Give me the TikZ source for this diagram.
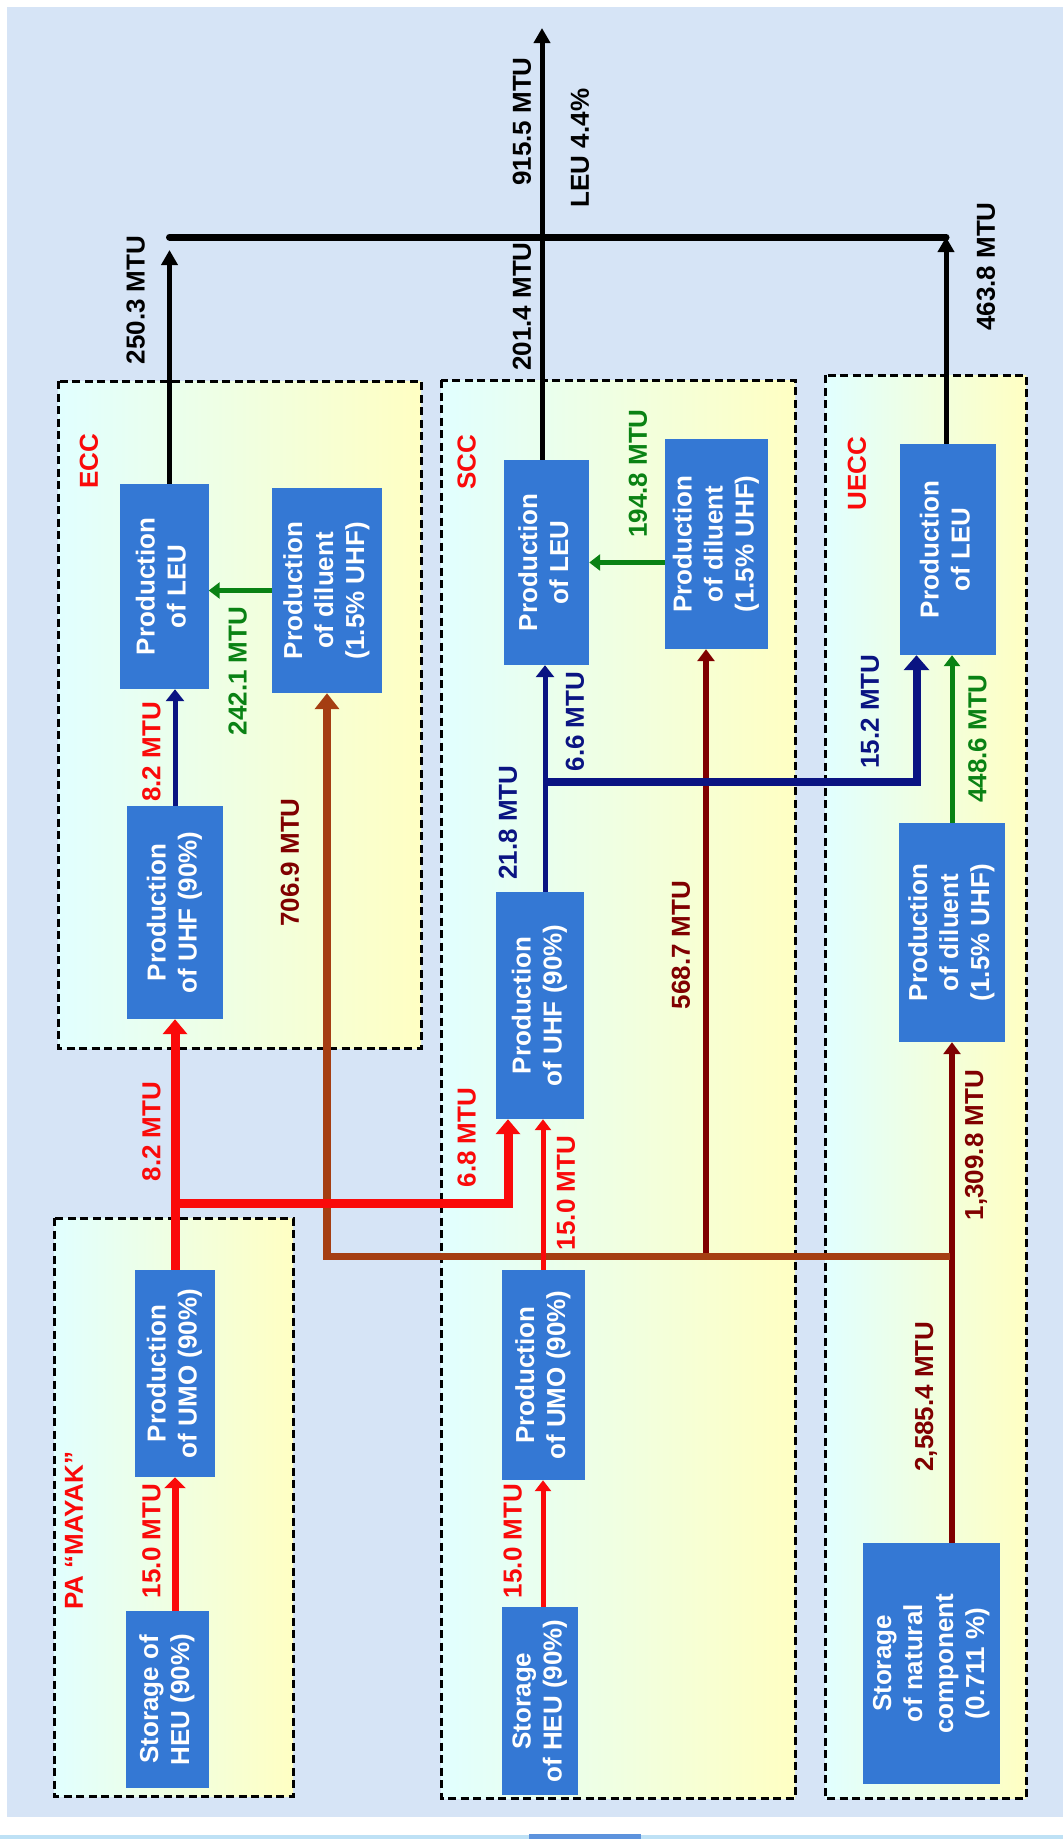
\documentclass[tikz,border=0pt]{standalone}
\usepackage{fontspec}
\usepackage{graphicx}
\setmainfont{Liberation Sans}
\usetikzlibrary{arrows.meta}
\definecolor{bgblue}{RGB}{214,228,246}
\definecolor{boxblue}{RGB}{52,120,212}
\definecolor{redc}{RGB}{250,10,10}
\definecolor{navyc}{RGB}{10,20,130}
\definecolor{greenc}{RGB}{10,130,20}
\definecolor{brownc}{RGB}{165,62,18}
\definecolor{maroonc}{RGB}{128,0,0}
\definecolor{cyanl}{RGB}{225,255,255}
\definecolor{yellowl}{RGB}{255,255,195}
\definecolor{stripblue}{RGB}{190,225,245}
\tikzset{
  blk/.style={fill=boxblue, text=white, inner sep=0pt,
    font=\fontsize{26}{31}\selectfont\bfseries},
  grp/.style={draw=black, line width=3pt, dash pattern=on 8pt off 4.5pt,
    left color=cyanl, right color=yellowl},
  lbl/.style={rotate=90, inner sep=0pt, font=\fontsize{26}{30}\selectfont\bfseries},
  redthick/.style={draw=redc, line width=9pt, -{Triangle[width=24pt,length=15pt]}},
  redmid/.style={draw=redc, line width=7pt, -{Triangle[width=21pt,length=11pt]}},
  redthin/.style={draw=redc, line width=5pt, -{Triangle[width=16pt,length=11pt]}},
  navythin/.style={draw=navyc, line width=5pt, -{Triangle[width=18pt,length=12pt]}},
  navythick/.style={draw=navyc, line width=8pt, -{Triangle[width=25pt,length=15pt]}},
  greenarr/.style={draw=greenc, line width=5pt, -{Triangle[width=16pt,length=11pt]}},
  brownarr/.style={draw=brownc, line width=7.5pt, -{Triangle[width=24pt,length=16pt]}},
  maroonarr/.style={draw=maroonc, line width=6pt, -{Triangle[width=17pt,length=12pt]}},
  blackarr/.style={draw=black, line width=5pt, -{Triangle[width=16pt,length=15pt]}},
}
\newcommand{\blktext}[1]{\rotatebox{90}{\begin{tabular}{@{}c@{}}#1\end{tabular}}}
\begin{document}
\begin{tikzpicture}[x=1pt,y=-1pt]
\useasboundingbox (0,0) rectangle (1063,1839);
% background
\fill[white] (0,0) rectangle (1063,1839);
\fill[bgblue] (7,7) rectangle (1063,1817);
\fill[stripblue] (0,1835) rectangle (1063,1839);
\fill[boxblue!80] (529,1834) rectangle (641,1839);
% group boxes
\draw[grp] (54,1218) rectangle (293,1796);
\draw[grp] (58.5,381) rectangle (421,1048);
\draw[grp] (441,380) rectangle (795,1798);
\draw[grp] (825,375) rectangle (1026,1798);

% blocks
\node[blk, minimum width=83pt, minimum height=177pt] (st1) at (167.5,1699.5) {\blktext{Storage of\\HEU (90\%)}};
\node[blk, minimum width=80pt, minimum height=207pt] (umo1) at (175,1373.5) {\blktext{Production\\of UMO (90\%)}};
\node[blk, minimum width=96pt, minimum height=213pt] (uhf1) at (175,912.5) {\blktext{Production\\of UHF (90\%)}};
\node[blk, minimum width=89pt, minimum height=205pt] (leu1) at (164,586.5) {\blktext{Production\\of LEU}};
\node[blk, minimum width=110pt, minimum height=205pt] (dil1) at (327,590.5) {\blktext{Production\\of diluent\\(1.5\% UHF)}};

\node[blk, minimum width=76pt, minimum height=188pt] (st2) at (540,1701) {\blktext{Storage\\of HEU (90\%)}};
\node[blk, minimum width=83pt, minimum height=210pt] (umo2) at (543.5,1375) {\blktext{Production\\of UMO (90\%)}};
\node[blk, minimum width=88pt, minimum height=227pt] (uhf2) at (540,1005.5) {\blktext{Production\\of UHF (90\%)}};
\node[blk, minimum width=85pt, minimum height=205pt] (leu2) at (546.5,562.5) {\blktext{Production\\of LEU}};
\node[blk, minimum width=103pt, minimum height=210pt] (dil2) at (716.5,544) {\blktext{Production\\of diluent\\(1.5\% UHF)}};

\node[blk, minimum width=96pt, minimum height=211pt] (leu3) at (948,549.5) {\blktext{Production\\of LEU}};
\node[blk, minimum width=106pt, minimum height=219pt] (dil3) at (952,932.5) {\blktext{Production\\of diluent\\(1.5\% UHF)}};
\node[blk, minimum width=137pt, minimum height=241pt] (nat) at (931.5,1663.5) {\blktext{Storage\\of natural\\component\\(0.711 \%)}};

% helper coordinates
\coordinate (busL) at (169.5,237);
\coordinate (busR) at (946,237);
\coordinate (e250) at (169.5,250);
\coordinate (topT) at (542,28);
\coordinate (rj) at (175,1203);
\coordinate (rk) at (508,1203);
\coordinate (s2) at (543,0);
\coordinate (nj) at (545,782);
\coordinate (nk) at (916.5,782);
\coordinate (bb) at (327,1256.5);
\coordinate (be) at (950,1256.5);
\coordinate (m2) at (706,1256.5);

% brown / maroon network
\draw[maroonarr] (nat.north -| dil3.south) -- (dil3.south);
\draw[maroonarr] (m2) -- (dil2.south -| m2);
\draw[brownarr] (be) -- (bb) -- (dil1.south);

% red network
\draw[redmid] (st1.north -| umo1.south) -- (umo1.south);
\draw[redthick] (umo1.north) -- (uhf1.south);
\draw[redthick] (rj) -- (rk) -- (uhf2.south -| rk);
\draw[redthin] (st2.north -| s2) -- (umo2.south -| s2);
\draw[redthin] (umo2.north -| s2) -- (uhf2.south -| s2);

% navy
\draw[navythin] (uhf1.north) -- (uhf1.north |- leu1.south);
\draw[navythin] (uhf2.north -| nj) -- (leu2.south -| nj);
\draw[navythick] (nj) -- (nk) -- (leu3.south -| nk);

% green
\draw[greenarr] (dil1.west) -- (dil1.west -| leu1.east);
\draw[greenarr] (dil2.west |- leu2.east) -- (leu2.east);
\draw[greenarr] (dil3.north) -- (dil3.north |- leu3.south);

% black output
\draw[black, line width=7pt, line cap=round] (busL) -- (busR);
\draw[blackarr] (leu1.north -| e250) -- (e250);
\draw[blackarr] (leu2.north -| topT) -- (topT);
\draw[blackarr] (leu3.north -| busR) -- (busR);

% labels
\node[lbl, text=redc] (lmayak) at (74,1530.5) {PA “MAYAK”};
\node[lbl, text=redc] (l150a) at (151.5,1541) {15.0 MTU};
\node[lbl, text=redc] (l82a) at (151.5,1131.5) {8.2 MTU};
\node[lbl, text=maroonc] (l7069) at (290,862.5) {706.9 MTU};
\node[lbl, text=redc] (lecc) at (89,461.5) {ECC};
\node[lbl, text=redc] (l82b) at (151.5,752) {8.2 MTU};
\node[lbl, text=greenc] (l2421) at (237.6,671) {242.1 MTU};
\node[lbl, text=black] (l2503) at (135.6,300) {250.3 MTU};
\node[lbl, text=redc] (lscc) at (466.6,462.5) {SCC};
\node[lbl, text=redc] (l68) at (466.6,1137.5) {6.8 MTU};
\node[lbl, text=redc] (l150b) at (512.6,1541) {15.0 MTU};
\node[lbl, text=redc] (l150c) at (566,1193) {15.0 MTU};
\node[lbl, text=navyc] (l218) at (508,822.5) {21.8 MTU};
\node[lbl, text=navyc] (l66) at (575,721.5) {6.6 MTU};
\node[lbl, text=maroonc] (l5687) at (681,945) {568.7 MTU};
\node[lbl, text=greenc] (l1948) at (638,473.5) {194.8 MTU};
\node[lbl, text=black] (l2014) at (522,306.5) {201.4 MTU};
\node[lbl, text=black] (l9155) at (522,121.5) {915.5 MTU};
\node[lbl, text=black] (lleu) at (580,148) {LEU 4.4\%};
\node[lbl, text=redc] (luecc) at (857,473.5) {UECC};
\node[lbl, text=navyc] (l152) at (870,711.5) {15.2 MTU};
\node[lbl, text=greenc] (l4486) at (977.5,738.5) {448.6 MTU};
\node[lbl, text=black] (l4638) at (986,266.5) {463.8 MTU};
\node[lbl, text=maroonc] (l13098) at (976,1145) {1,309.8 MTU};
\node[lbl, text=maroonc] (l25854) at (926,1396.5) {2,585.4 MTU};
\end{tikzpicture}
\end{document}
